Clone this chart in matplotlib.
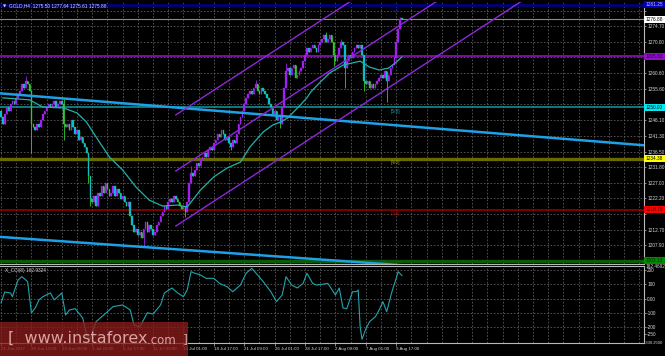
import matplotlib
matplotlib.use("Agg")
import matplotlib.pyplot as plt
from matplotlib.patches import Rectangle

# ---------------- data ----------------
closes = [
    1247, 1245, 1248, 1250, 1249, 1251, 1252, 1251, 1253, 1254,
    1255, 1257, 1256, 1258, 1257, 1255, 1245, 1244, 1243, 1245,
    1244, 1246, 1248, 1249, 1250, 1251, 1250, 1251, 1252, 1250,
    1251, 1252, 1251, 1245, 1244, 1245, 1243, 1246, 1244, 1242,
    1243, 1240, 1241, 1239, 1238, 1236, 1229, 1222, 1221, 1223,
    1220, 1224, 1223, 1226, 1224, 1227, 1225, 1223, 1224, 1226,
    1223, 1225, 1224, 1222, 1223, 1221, 1220, 1221, 1217, 1214,
    1212, 1213, 1211, 1212, 1210, 1213, 1215, 1212, 1214, 1213,
    1211, 1212, 1214, 1215, 1217, 1218, 1220, 1219, 1221, 1222,
    1221, 1223, 1222, 1221, 1220, 1219, 1220, 1218, 1221, 1227,
    1230, 1229, 1231, 1233, 1232, 1234, 1235, 1236, 1235, 1237,
    1238, 1237, 1239, 1240, 1242, 1241, 1243, 1242, 1240, 1241,
    1239, 1238, 1240, 1239, 1242, 1245, 1247, 1249, 1251, 1253,
    1254, 1255, 1254, 1256, 1257, 1255, 1254, 1256, 1255, 1254,
    1253, 1251, 1250, 1248, 1249, 1246, 1247, 1245, 1250, 1256,
    1261, 1262, 1260, 1262, 1263, 1259, 1260, 1261, 1262, 1264,
    1266, 1268, 1267, 1268, 1269, 1268, 1267, 1269, 1270, 1271,
    1272, 1270, 1271, 1272, 1270, 1266, 1264, 1266, 1268, 1270,
    1269, 1262, 1264, 1266, 1265, 1267, 1268, 1269, 1268, 1269,
    1266, 1258, 1257, 1258, 1256, 1257, 1256, 1257, 1258, 1259,
    1260, 1259, 1261, 1258, 1260, 1262, 1263, 1265, 1270, 1274,
    1277, 1276.88,
]
first_open = 1249.0
wick_highs = {13: 1259.5, 33: 1252.5, 100: 1232.0, 134: 1258.5, 150: 1263.5,
              171: 1273.0, 179: 1271.0, 210: 1277.64}
wick_lows = {16: 1236.0, 33: 1240.0, 46: 1227.0, 47: 1220.0, 75: 1207.4, 97: 1216.5,
             121: 1237.0, 147: 1243.7, 175: 1262.5, 181: 1256.0, 191: 1255.0, 203: 1251.5}

ma_bars = [1, 15, 22, 33, 40, 45, 50, 57, 64, 71, 78, 85, 93, 98, 105, 112, 119, 126,
           131, 138, 143, 147, 151, 156, 161, 163, 168, 173, 180, 189, 194, 199, 204, 208, 211]
ma_vals = [1252.9, 1252.3, 1250.1, 1249.8, 1248.3, 1245.5, 1241.0, 1234.9, 1230.9, 1225.7,
           1221.7, 1219.9, 1220.2, 1219.6, 1224.8, 1228.8, 1231.5, 1233.3, 1237.9, 1242.5,
           1244.6, 1245.5, 1246.8, 1249.8, 1252.9, 1254.7, 1257.7, 1260.5, 1262.9, 1264.1,
           1262.3, 1261.4, 1262.0, 1263.8, 1265.4]

cci_bars = [0, 2, 5, 6, 9, 11, 14, 16, 18, 20, 22, 26, 28, 32, 34, 36, 39, 43, 45, 47,
            50, 53, 56, 59, 64, 68, 70, 73, 77, 80, 84, 86, 90, 93, 96, 98, 100, 102, 105,
            108, 112, 115, 119, 122, 126, 129, 132, 135, 138, 142, 145, 148, 150, 153, 156,
            159, 161, 164, 166, 169, 172, 176, 178, 180, 182, 185, 187, 188, 189, 190, 192,
            194, 197, 199, 201, 203, 205, 206, 208, 209, 211]
cci_vals = [-30, 47, 40, 14, 132, 155, 120, -100, -66, -9, 14, 40, -9, 40, -115, -80, -70,
            -136, -255, -283, -162, -127, -92, -56, -44, -80, -185, -200, -99, -108, -44, 40,
            75, 40, 14, 61, 190, 179, 167, 143, 143, 108, 84, 49, 96, 179, 214, 167, 120, 49,
            -21, 26, 155, 96, 75, 108, 179, 108, 96, 101, 108, 26, 75, -66, -70, 49, 49, 61,
            -197, -286, -213, -162, -127, -80, -21, -92, 14, 61, 143, 190, 163]

level_prices = [1281.25, 1265.63, 1250.00, 1234.38, 1218.75, 1203.13]
level_texts = ["1281.25", "1265.63", "1250.00", "1234.38", "1218.75", "1203.13"]
level_tags = ["[7/8]", "", "[5/8]", "[4/8]", "[3/8]", ""]
bid_price = 1276.88
bid_text = "1276.88"

price_ticks = [1279.50, 1274.70, 1270.00, 1265.40, 1260.60, 1255.60, 1250.90, 1246.10,
               1241.30, 1236.50, 1231.80, 1227.00, 1222.20, 1217.50, 1212.70, 1207.90]

time_bars = [0, 16, 32, 48, 64, 80, 96, 112, 128, 144, 160, 176, 192, 208]
time_labels = ["21 Jun 2017", "26 Jun 13:00", "29 Jun 05:00", "3 Jul 21:00", "6 Jul 17:00",
               "11 Jul 09:00", "14 Jul 01:00", "18 Jul 17:00", "21 Jul 09:00", "26 Jul 01:00",
               "28 Jul 17:00", "2 Aug 09:00", "7 Aug 01:00", "9 Aug 17:00"]

cci_ticks = [200, 100, 0, -100, -200, -250]
cci_tick_labels = ["200", "100", "0.00", "-100", "-200", "-250"]
cci_max_label = "162.4692"
cci_min_label = "-330.2500"

trend_upper_bars = [-1, 339]
trend_upper_prices = [1254.3, 1238.4]
trend_lower_bars = [-1, 339]
trend_lower_prices = [1210.5, 1196.6]
channel_bars = [92, 339]
channel_prices = [[1247.7, 1340.8], [1230.6, 1323.7], [1213.8, 1306.9]]

title_text = "GOLD,H4  1275.50 1277.64 1275.61 1275.88"
cci_title = "X_CCI(8) 162.9324"
watermark_main = "[  www.instaforex"
watermark_tail = ".com  ]"

# ---------------- styling / layout ----------------
W, H = 665, 356
BG = "black"
GRID = "#5c5c5c"
AXC = "#b8b8b8"
TXT = "#d8d8d8"
FONT = "Liberation Sans"
DASH = (0, (2, 2))
FS = 3.4

fig = plt.figure(figsize=(W / 100, H / 100), dpi=100, facecolor=BG)

ax = fig.add_axes([0, 1 - 263.5 / H, 644 / W, 261.5 / H], facecolor=BG)
ax2 = fig.add_axes([0, 1 - 342.5 / H, 644 / W, 76.5 / H], facecolor=BG)

xlim = (-0.53, 338.4)
for a in (ax, ax2):
    a.set_xlim(*xlim)
    for s in ("left", "top"):
        a.spines[s].set_visible(False)
    for s in ("right", "bottom"):
        a.spines[s].set_color(AXC)
        a.spines[s].set_linewidth(0.8)
ax2.spines["top"].set_visible(True)
ax2.spines["top"].set_color(AXC)
ax2.spines["top"].set_linewidth(0.8)

ax.set_ylim(1202.36, 1282.15)
ax2.set_ylim(-308.5, 230)

# grid
for b in range(0, 339, 8):
    ax.axvline(b, color=GRID, lw=0.6, ls=DASH, zorder=0)
    ax2.axvline(b, color=GRID, lw=0.6, ls=DASH, zorder=0)
for t in price_ticks:
    ax.axhline(t, color=GRID, lw=0.6, ls=DASH, zorder=0)
for t in cci_ticks[:-1]:
    ax2.axhline(t, color=GRID, lw=0.6, ls=DASH, zorder=0)

# level lines
line_cols = ["#00007a", "#7a0fa0", "#0f9ba5", "#6a6a00", "#a00000", "#0a5a0a"]
line_lws = [2.0, 1.4, 1.1, 2.4, 1.1, 2.4]
box_cols = ["#0000b4", "#9010c8", "#00e8f0", "#ffff00", "#ff0000", "#008a00"]
box_txt = ["#c0c0ff", "#2a0038", "black", "black", "#3a0000", "#002a00"]
tag_cols = ["#000096", "#7a0fa0", "#12a0aa", "#9a9a00", "#b00000", "#0a5a0a"]
yt = ax.get_yaxis_transform()
box_w = 21 / 644
box_h = 7 / 3.277
for p, txt, tag, lc, lw, bc, tc, gc in zip(level_prices, level_texts, level_tags, line_cols,
                                           line_lws, box_cols, box_txt, tag_cols):
    ax.axhline(p, color=lc, lw=lw, zorder=1)
    ax.add_patch(Rectangle((1.0, p - box_h / 2), box_w, box_h, transform=yt,
                           facecolor=bc, edgecolor="none", clip_on=False, zorder=20))
    ax.text(1.0 + 1.5 / 644, p, txt, transform=yt, color=tc, fontsize=FS, family=FONT,
            va="center", ha="left", clip_on=False, zorder=21)
    if tag:
        ax.text(205, p - 0.5, tag, color=gc, fontsize=FS, family=FONT, va="top", ha="left",
                zorder=2)

# bid line
ax.axhline(bid_price, color="#8c8c8c", lw=0.8, zorder=1)
ax.add_patch(Rectangle((1.0, bid_price - box_h / 2), box_w, box_h, transform=yt,
                       facecolor="white", edgecolor="none", clip_on=False, zorder=20))
ax.text(1.0 + 1.5 / 644, bid_price, bid_text, transform=yt, color="black", fontsize=FS,
        family=FONT, va="center", ha="left", clip_on=False, zorder=21)

# candles
opens = [first_open] + closes[:-1]
for i, (o, c) in enumerate(zip(opens, closes)):
    hi = max(o, c, wick_highs.get(i, c))
    lo = min(o, c, wick_lows.get(i, c))
    bull = c >= o
    body_c = "#a020f0" if bull else "#00b8ff"
    wick_c = "#a020f0" if bull else "#32cd32"
    ax.vlines(i, lo, hi, color=wick_c, lw=0.6, zorder=3)
    ax.bar(i, max(abs(c - o), 0.25), bottom=min(o, c), width=0.8, color=body_c,
           edgecolor=wick_c, linewidth=0.25, zorder=4)

# moving average
ax.plot(ma_bars, ma_vals, color="#20b2aa", lw=0.9, zorder=5)

# trend lines
ax.plot(trend_upper_bars, trend_upper_prices, color="#1ea0e6", lw=1.8, zorder=6)
ax.plot(trend_lower_bars, trend_lower_prices, color="#1ea0e6", lw=1.8, zorder=6)
for cp in channel_prices:
    ax.plot(channel_bars, cp, color="#8c28dc", lw=1.0, zorder=6)

# price axis ticks (labels hidden where a level box covers them, as in the reference)
covered = level_prices + [bid_price]
ax.yaxis.tick_right()
ax.set_yticks(price_ticks)
ax.set_yticklabels([("" if any(abs(t - c) < 2.0 for c in covered) else f"{t:.2f}")
                    for t in price_ticks])
ax.tick_params(axis="y", length=1.5, width=0.5, colors=AXC, labelsize=FS, pad=0.8,
               labelcolor=TXT)
for lab in ax.get_yticklabels():
    lab.set_family(FONT)
ax.set_xticks([])

# CCI panel
ax2.plot(cci_bars, cci_vals, color="#1fa5ad", lw=0.8, zorder=3)
ax2.yaxis.tick_right()
ax2.set_yticks(cci_ticks)
ax2.set_yticklabels(cci_tick_labels)
ax2.tick_params(axis="y", length=1.5, width=0.5, colors=AXC, labelsize=FS, pad=0.8,
                labelcolor=TXT)
for lab in ax2.get_yticklabels():
    lab.set_family(FONT)
ax2.text(1.0 + 2 / 644, 1.0, cci_max_label, transform=ax2.transAxes, color=TXT,
         fontsize=FS, family=FONT, va="center", ha="left", clip_on=False)
ax2.text(1.0 + 1 / 644, 0.0, cci_min_label, transform=ax2.transAxes, color=TXT,
         fontsize=3.0, family=FONT, va="center", ha="left", clip_on=False)
ax2.text(2.0, 0.97, cci_title, transform=ax2.get_xaxis_transform(), color=TXT, fontsize=FS,
         family=FONT, va="top", ha="left")

ax2.set_xticks(time_bars)
ax2.set_xticklabels(time_labels)
ax2.tick_params(axis="x", length=2, width=0.5, colors=AXC, labelsize=3.2, pad=1.5,
                labelcolor=TXT)
for lab in ax2.get_xticklabels():
    lab.set_ha("left")
    lab.set_family(FONT)

# title
fig.text(3 / W, 1 - 6 / H, "\u25bc", color=TXT, fontsize=3, va="center", ha="left")
fig.text(9 / W, 1 - 6 / H, title_text, color=TXT, fontsize=FS, family=FONT,
         va="center", ha="left")

# watermark
fig.patches.append(Rectangle((0, 0), 188 / W, 34 / H, transform=fig.transFigure,
                             facecolor="#8b1c1c", alpha=0.78, edgecolor="none", zorder=50))
fig.text(8 / W, 1 - 343 / H, watermark_main, color="#d9a4a4", fontsize=11.5,
         va="baseline", ha="left", zorder=51)
fig.text(147 / W, 1 - 343 / H, watermark_tail, color="#d9a4a4", fontsize=8.5,
         va="baseline", ha="left", zorder=51)

fig.savefig("out.png", dpi=100, facecolor=BG)
